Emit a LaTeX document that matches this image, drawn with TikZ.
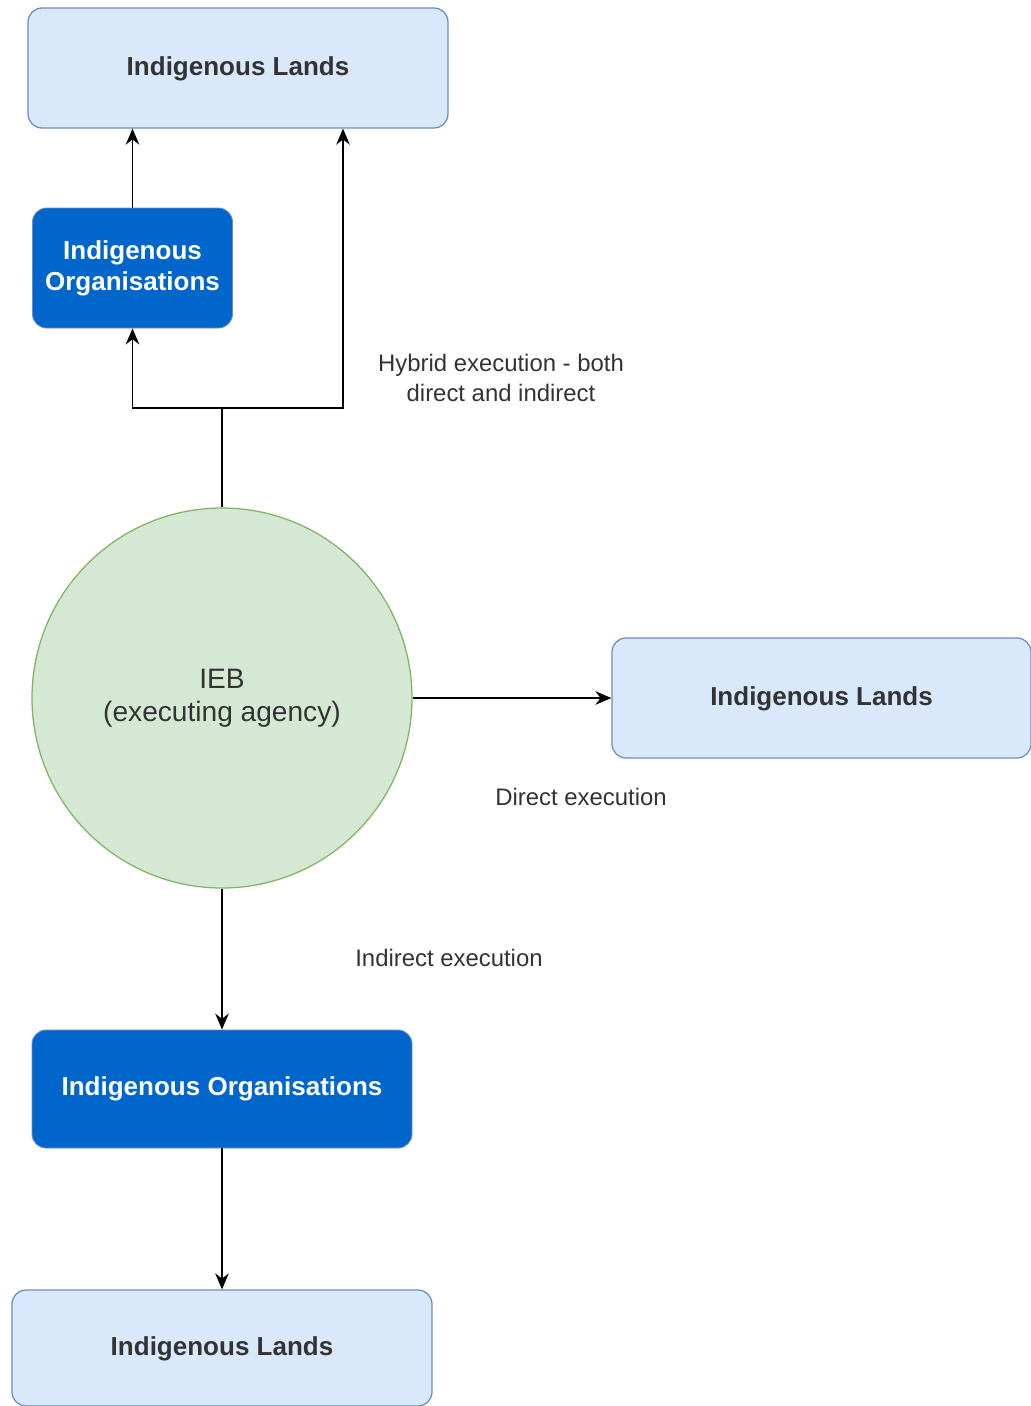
\documentclass[tikz,border=0pt]{standalone}
\usepackage{fontspec}
\setmainfont{Liberation Sans}
\usetikzlibrary{arrows.meta,positioning}

\definecolor{landfill}{HTML}{DAE8FC}
\definecolor{landline}{HTML}{6C8EBF}
\definecolor{orgfill}{HTML}{0066CC}
\definecolor{iebfill}{HTML}{D5E8D4}
\definecolor{iebline}{HTML}{82B366}
\definecolor{txt}{HTML}{333333}

\begin{document}
\begin{tikzpicture}[
    landbox/.style={
       rectangle, rounded corners=0.35cm, draw=landline, fill=landfill,
       line width=0.9pt, minimum width=10.5cm, minimum height=3cm,
       text=txt, font=\fontsize{18.5}{22}\selectfont\bfseries,
       text depth=0.1cm
        },
    orgbox/.style={
       rectangle, rounded corners=0.35cm, draw=landline, fill=orgfill,
       line width=0.6pt, minimum height=3cm, text=white, align=center,
       font=\fontsize{18.5}{22}\selectfont\bfseries
        },
    agency/.style={
       circle, draw=iebline, fill=iebfill, line width=0.9pt,
       minimum size=9.5cm, inner sep=0pt, text=txt, align=center,
       font=\fontsize{20}{23.5}\selectfont
        },
    flow/.style={line width=1.2pt, -{Stealth[length=0.4cm,width=0.34cm]}},
    note/.style={text=txt, align=center, font=\fontsize{17}{21.3}\selectfont}
    ]

\useasboundingbox (0,0) rectangle (25.775,-35.15);

% boxes
\node[landbox] (land1) at (5.95,-1.7) {Indigenous Lands};
\node[orgbox, minimum width=5cm] (org1) at (3.3125,-6.7) {Indigenous\\Organisations};
\node[agency] (ieb) at (5.55,-17.45) {IEB\\(executing agency)};
\node[landbox, minimum width=10.475cm] (land2) at (20.5375,-17.45) {Indigenous Lands};
\node[orgbox, minimum width=9.5cm, minimum height=2.95cm] (org2) at (5.55,-27.225) {Indigenous Organisations};
\node[landbox, minimum height=2.9cm] (land3) at (5.55,-33.7) {Indigenous Lands};

% hybrid route
\coordinate (hub) at (5.55,-10.2);
\draw[line width=1.2pt] (ieb) -- (hub);
\draw[flow] (hub) -| (org1.south);
\draw[flow] (hub) -| ([xshift=2.625cm]land1.south);
\draw[flow] (org1) -- (org1.north |- land1.south);

% direct and indirect routes
\draw[flow] (ieb) -- (land2);
\draw[flow] (ieb) -- (org2);
\draw[flow] (org2) -- (land3);

% labels
\node[note] (hybrid) at (12.525,-9.45) {Hybrid execution - both\\direct and indirect};
\node[note] (direct) at (14.525,-19.925) {Direct execution};
\node[note] (indirect) at (11.225,-23.95) {Indirect execution};
\end{tikzpicture}
\end{document}
